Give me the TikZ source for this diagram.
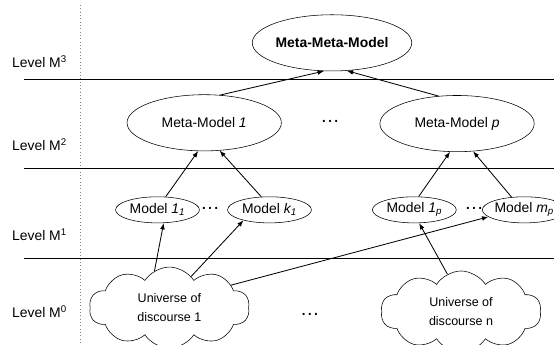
\documentclass[tikz,border=0pt]{standalone}
\usepackage{fontspec}
\setmainfont{Liberation Sans}
\usetikzlibrary{shapes.geometric,shapes.symbols,arrows.meta}
\tikzset{
  big/.style={draw,ellipse,inner sep=0pt,minimum width=3.9cm,minimum height=1.42cm},
  small/.style={draw,ellipse,inner sep=0pt,minimum width=2.12cm,minimum height=0.66cm},
  uod/.style={draw,cloud,cloud puffs=10,cloud puff arc=115,aspect=2.1,inner sep=0pt,
    minimum width=4.05cm,minimum height=2.05cm,cloud ignores aspect,align=center,
    font=\fontsize{9}{14}\selectfont},
  lvl/.style={anchor=west,inner sep=0pt},
  gap/.style={font=\fontsize{14}{14}\selectfont},
  up/.style={-{Latex[length=1.6mm,width=1.2mm]},semithick}
}
\begin{document}
\begin{tikzpicture}[font=\fontsize{10}{12}\selectfont]
\useasboundingbox (0,0) rectangle (14,8.693);
\clip (0,0) rectangle (14,8.693);
\draw [dotted,gray] (2.02,8.57) -- (2.02,0);
\draw (0.61,6.70) -- (14,6.70);
\draw (0.61,4.45) -- (14,4.45);
\draw (0.61,2.17) -- (14,2.17);
\node [lvl] (lvl3) at (0.3,7.13) {Level M\textsuperscript{3}};
\node [lvl] (lvl2) at (0.3,5.03) {Level M\textsuperscript{2}};
\node [lvl] (lvl1) at (0.3,2.75) {Level M\textsuperscript{1}};
\node [lvl] (lvl0) at (0.3,0.81) {Level M\textsuperscript{0}};
\node [big] (metameta) at (8.39,7.61) {\textbf{Meta-Meta-Model}};
\node [big] (meta1) at (5.16,5.59) {Meta-Model \textit{1}};
\node [big] (metap) at (11.55,5.57) {Meta-Model \textit{p}};
\node [gap] (dotsa) at (8.34,5.62) {\dots};
\node [small] (mod11) at (3.98,3.39) {Model \textit{1\textsubscript{1}}};
\node [small] (modk1) at (6.81,3.39) {Model \textit{k\textsubscript{1}}};
\node [small] (mod1p) at (10.47,3.39) {Model \textit{1\textsubscript{p}}};
\node [small] (modmp) at (13.25,3.39) {Model \textit{m\textsubscript{p}}};
\node [gap] (dotsb) at (5.31,3.42) {\dots};
\node [gap] (dotsc) at (11.98,3.42) {\dots};
\node [uod] (uod1) at (4.28,0.92) {Universe of\\discourse 1};
\node [uod] (uodn) at (11.65,0.82) {Universe of\\discourse n};
\node [gap] (dotsd) at (7.83,0.74) {\dots};
\draw [up] (meta1.60) -- (metameta.254);
\draw [up] (metap.124) -- (metameta.298);
\draw [up] (mod11.58) -- (meta1.258);
\draw [up] (modk1.122) -- (meta1.299);
\draw [up] (mod1p.72) -- (metap.256);
\draw [up] (modmp.135) -- (metap.300);
\draw [up] (uod1.112) -- (mod11.295);
\draw [up] (uod1.55) -- (modk1.202);
\draw [up] (uod1.20) -- (modmp.191);
\draw [up] (uodn.110) -- (mod1p.290);
\end{tikzpicture}
\end{document}
